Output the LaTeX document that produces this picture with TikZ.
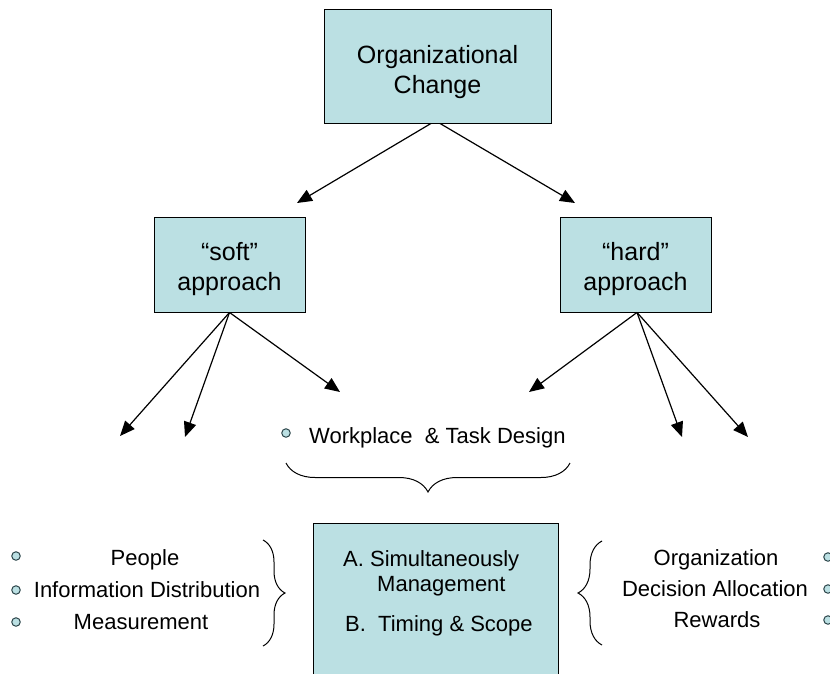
\documentclass[tikz,border=0pt]{standalone}
\usepackage{fontspec}
\setmainfont{Liberation Sans}
\usetikzlibrary{arrows.meta,decorations.pathreplacing}
\definecolor{boxfill}{RGB}{187,224,227}
\definecolor{bulletline}{RGB}{45,70,75}
\begin{document}
\begin{tikzpicture}[x=1pt,y=-1pt,
  box/.style={draw=black, line width=0.9pt, fill=boxfill, inner sep=0pt},
  boxtxt/.style={inner sep=0pt, align=center},
  arr/.style={line width=1.2pt, -{Triangle[length=15pt,width=12.5pt]}},
  bul/.style={circle, draw=bulletline, fill=boxfill, line width=1pt, minimum size=8.5pt, inner sep=0pt},
  txt/.style={font=\fontsize{22}{26}\selectfont, inner sep=0pt},
  brc/.style={decorate, line width=1pt}
]
\useasboundingbox (0,0) rectangle (830,673);
% boxes
\node[box, minimum width=227pt, minimum height=114pt] (top) at (437.5,66) {};
\node[boxtxt, font=\fontsize{25}{30}\selectfont] (toptxt) at (437.5,72) {Organizational\\Change};
\node[box, minimum width=151pt, minimum height=95pt] (soft) at (229.5,264.5) {};
\node[boxtxt, font=\fontsize{25}{30}\selectfont] (softtxt) at (229.5,269) {“soft”\\approach};
\node[box, minimum width=151pt, minimum height=95pt] (hard) at (635.5,264.5) {};
\node[boxtxt, font=\fontsize{25}{30}\selectfont] (hardtxt) at (635.5,269) {“hard”\\approach};
\node[box, minimum width=245pt, minimum height=170pt, anchor=north west] (mid) at (313,523) {};
% center box text
\node[txt, anchor=base west] (ma) at (343,566) {A. Simultaneously};
\node[txt, anchor=base west] (mb) at (377,591) {Management};
\node[txt, anchor=base west] (mc) at (345,631) {B.\ \ Timing \& Scope};
% arrow tips
\coordinate (tl) at (297,203);
\coordinate (tr) at (575,203);
\coordinate (s1) at (120,436);
\coordinate (s2) at (185,437);
\coordinate (s3) at (340,392);
\coordinate (h1) at (529,392);
\coordinate (h2) at (682,437);
\coordinate (h3) at (748,437);
\draw[arr] ([xshift=-6.5pt]top.south) -- (tl);
\draw[arr] ([xshift=2.5pt]top.south) -- (tr);
\draw[arr] (soft.south) -- (s1);
\draw[arr] (soft.south) -- (s2);
\draw[arr] (soft.south) -- (s3);
\draw[arr] ([xshift=1.5pt]hard.south) -- (h1);
\draw[arr] ([xshift=1.5pt]hard.south) -- (h2);
\draw[arr] ([xshift=1.5pt]hard.south) -- (h3);
% workplace
\node[bul] (bw) at (286,433) {};
\node[txt, anchor=base west] (work) at (309,443) {Workplace\ \ \& Task Design};
\coordinate (wb1) at (286,463);
\coordinate (wb2) at (570,463);
\draw[brc, decoration={brace, amplitude=29pt, mirror}] (wb1) -- (wb2);
% left list
\node[bul] (bl1) at (16,556) {};
\node[bul] (bl2) at (16,590) {};
\node[bul] (bl3) at (16,622) {};
\node[txt, anchor=base] (people) at (145,565) {People};
\node[txt, anchor=base] (info) at (147,597) {Information Distribution};
\node[txt, anchor=base] (meas) at (141,629) {Measurement};
\coordinate (lb1) at (263,540);
\coordinate (lb2) at (263,646);
\draw[brc, decoration={brace, amplitude=22pt}] (lb1) -- (lb2);
% right list
\node[txt, anchor=base] (org) at (716,565) {Organization};
\node[txt, anchor=base] (dec) at (715,596) {Decision Allocation};
\node[txt, anchor=base] (rew) at (717,627) {Rewards};
\node[bul] (br1) at (828,557) {};
\node[bul] (br2) at (828,589) {};
\node[bul] (br3) at (828,620) {};
\coordinate (rb1) at (602,541);
\coordinate (rb2) at (602,645);
\draw[brc, decoration={brace, amplitude=24pt, mirror}] (rb1) -- (rb2);
\end{tikzpicture}
\end{document}
